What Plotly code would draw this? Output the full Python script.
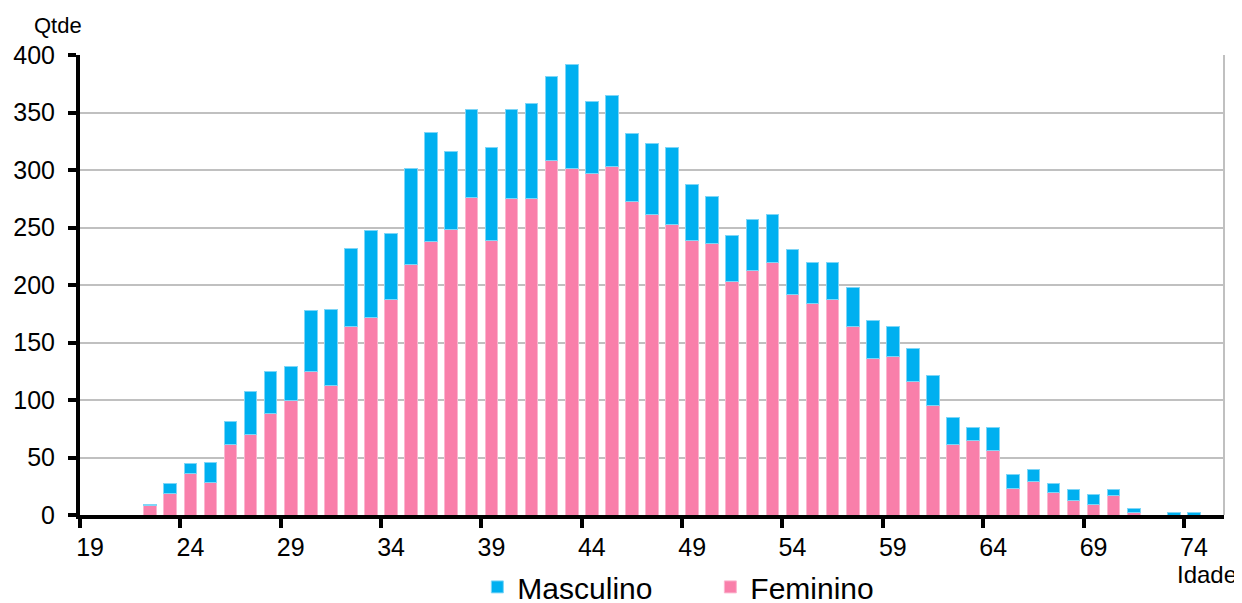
import plotly.graph_objects as go

idade = list(range(19, 76))
feminino = [0, 0, 0, 8, 19, 36, 28, 61, 70, 88, 100, 125, 113, 164, 172, 187, 218, 238, 248, 276,
            239, 275, 275, 308, 301, 297, 303, 273, 261, 253, 239, 236, 203, 213, 220, 192, 184, 187,
            164, 136, 138, 116, 95, 61, 65, 56, 23, 29, 20, 13, 9, 17, 2, 0, 0, 0, 0]
total = [0, 0, 0, 9, 27, 45, 46, 81, 107, 125, 129, 178, 179, 232, 247, 245, 301, 333, 316, 353,
         320, 353, 358, 381, 392, 360, 365, 332, 323, 320, 287, 277, 243, 257, 261, 231, 220, 220,
         198, 169, 164, 145, 121, 85, 76, 76, 35, 40, 27, 22, 18, 22, 6, 0, 2, 2, 0]
masculino = [t - f for t, f in zip(total, feminino)]
tick_labels = [19, 24, 29, 34, 39, 44, 49, 54, 59, 64, 69, 74]

FONT = "Liberation Sans"
fig = go.Figure()
fig.add_trace(go.Bar(x=idade, y=feminino, name="Feminino",
                     marker=dict(color="#F97FAA", line=dict(color="#FBB6CF", width=1))))
fig.add_trace(go.Bar(x=idade, y=masculino, name="Masculino",
                     marker=dict(color="#00B0F0", line=dict(color="#7FD6F7", width=1))))

fig.update_layout(
    width=1242, height=603,
    barmode="stack", bargap=0.37,
    plot_bgcolor="white", paper_bgcolor="white",
    margin=dict(l=72, r=26, t=47, b=96, autoexpand=False),
    font=dict(family=FONT, color="black", size=25),
    showlegend=True,
    legend=dict(orientation="h", xref="container", x=0.5655, xanchor="center",
                yref="container", y=0.040, yanchor="middle",
                traceorder="reversed", font=dict(size=30), itemwidth=30,
                entrywidth=188, entrywidthmode="pixels"),
    xaxis=dict(range=[18.5, 75.5], tickmode="array", tickvals=tick_labels,
               ticktext=[str(v) for v in tick_labels], ticks="", showgrid=False,
               showline=True, linecolor="black", linewidth=4, zeroline=False,
               tickfont=dict(size=25), ticklabelstandoff=7,
               minor=dict(tickmode="linear", tick0=18.5, dtick=5, ticks="outside",
                          ticklen=9, tickwidth=4, tickcolor="black", showgrid=False)),
    yaxis=dict(range=[0, 400], dtick=50, showgrid=True, gridcolor="#C0C0C0", gridwidth=2,
               showline=True, linecolor="black", linewidth=4, ticks="outside",
               ticklen=8, tickwidth=4, tickcolor="black", zeroline=False,
               tickfont=dict(size=25), ticklabelstandoff=8),
    annotations=[
        dict(text="Qtde", xref="paper", yref="paper", x=-0.042, y=1.0, yshift=30,
             xanchor="left", yanchor="middle", showarrow=False, font=dict(size=22)),
        dict(text="Idade", xref="paper", yref="paper", x=1.0131, y=0, yshift=-59,
             xanchor="right", yanchor="middle", showarrow=False, font=dict(size=24)),
    ],
    shapes=[dict(type="line", xref="paper", yref="paper", x0=1, x1=1, y0=0, y1=1,
                 line=dict(color="#C0C0C0", width=2))],
)

fig.write_html("out.html")
